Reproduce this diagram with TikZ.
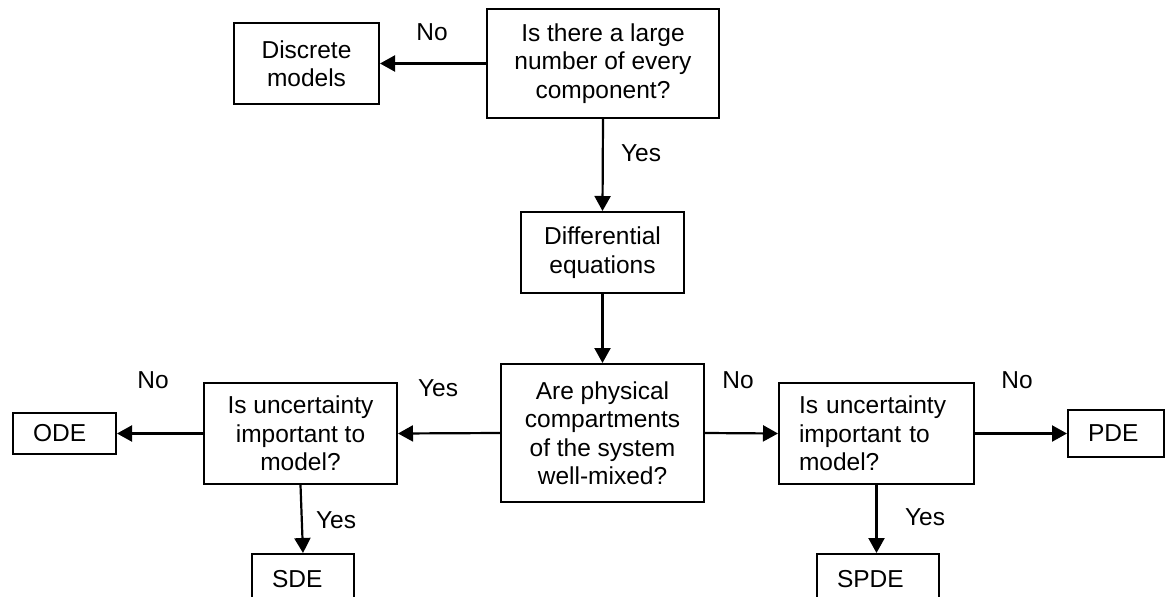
\documentclass[tikz,border=0pt]{standalone}
\usepackage{fontspec}
\setmainfont{Liberation Sans}
\usetikzlibrary{arrows.meta}
\begin{document}
\begin{tikzpicture}[x=1pt,y=-1pt,
  every node/.style={font=\fontsize{24.5pt}{28.5pt}\selectfont},
  box/.style={draw, line width=2pt, rectangle, inner sep=0pt, align=center},
  lbox/.style={draw, line width=2pt, rectangle, inner ysep=0pt, inner xsep=20pt, align=left},
  arr/.style={line width=2.2pt, -{Triangle[length=15pt,width=16pt]}},
  lbl/.style={inner sep=0pt}]
\useasboundingbox (0,0) rectangle (1165,597);
\fill[white] (0,0) rectangle (1165,597);
% boxes
\node[box, minimum width=232pt, minimum height=109pt] (q1) at (603,63.5) {Is there a large\\number of every\\component?};
\node[box, minimum width=145pt, minimum height=81pt] (disc) at (306.5,63.5) {Discrete\\models};
\node[box, minimum width=163pt, minimum height=81pt] (diff) at (602.5,252.5) {Differential\\equations};
\node[box, minimum width=203pt, minimum height=138pt] (mid) at (602.5,433) {Are physical\\compartments\\of the system\\well-mixed?};
\node[box, minimum width=193pt, minimum height=101pt] (lq) at (300.5,433.5) {Is uncertainty\\important to\\model?};
\node[lbox, text width=155pt, minimum height=101pt] (rq) at (876.5,433.5) {Is uncertainty\\important to\\model?};
\node[lbox, text width=63pt, minimum height=41pt] (ode) at (64.5,433.5) {ODE};
\node[lbox, text width=56pt, minimum height=47pt] (pde) at (1116,433.5) {PDE};
\node[lbox, text width=62pt, minimum height=50pt, anchor=north] (sde) at (303,553) {SDE};
\node[lbox, text width=82pt, minimum height=50pt, anchor=north] (spde) at (878,553) {SPDE};
% connectors
\draw[arr] (q1.west) -- (q1.west -| disc.east);
\draw[arr] (q1.south) -- (diff.north);
\draw[arr] (diff.south) -- (mid.north);
\draw[arr] (mid.west) -- (lq.east);
\draw[arr] (lq.west) -- (ode.east);
\draw[arr] (mid.east) -- (rq.west);
\draw[arr] (rq.east) -- (pde.west);
\draw[arr] (lq.south) -- (sde.north);
\draw[arr] (rq.south) -- (rq.south |- spde.north);
% labels
\node[lbl] (l1) at (432,32) {No};
\node[lbl] (l2) at (641,153) {Yes};
\node[lbl] (l3) at (153,380) {No};
\node[lbl] (l4) at (438,388) {Yes};
\node[lbl] (l5) at (738,380) {No};
\node[lbl] (l6) at (1017,380) {No};
\node[lbl] (l7) at (336,520) {Yes};
\node[lbl] (l8) at (925,517) {Yes};
\end{tikzpicture}
\end{document}
